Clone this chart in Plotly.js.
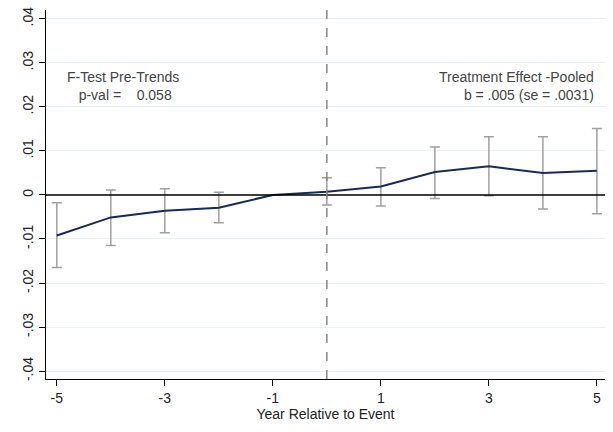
<!DOCTYPE html>
<html>
<head>
<script src="https://cdn.plot.ly/plotly-3.0.1.min.js"></script>
<style>body{margin:0;background:#fff}</style>
</head>
<body>
<div id="plot" style="width:613px;height:432px"></div>
<script>
var years = [-5, -4, -3, -2, -1, 0, 1, 2, 3, 4, 5];
var coef = [-0.0092, -0.0051, -0.0036, -0.0029, 0, 0.00075, 0.0019, 0.0052, 0.0065, 0.0050, 0.0055];
var ciHigh = [-0.0018, 0.0011, 0.0014, 0.0006, null, 0.0039, 0.0062, 0.0109, 0.0132, 0.0132, 0.0151];
var ciLow = [-0.0165, -0.0115, -0.0086, -0.0063, null, -0.0023, -0.0025, -0.0008, -0.0002, -0.0032, -0.0043];
var xTicks = [-5, -3, -1, 1, 3, 5];
var xLabels = ['-5', '-3', '-1', '1', '3', '5'];
var yTicks = [-0.04, -0.03, -0.02, -0.01, 0, 0.01, 0.02, 0.03, 0.04];
var yLabels = ['-.04', '-.03', '-.02', '-.01', '0', '.01', '.02', '.03', '.04'];

var errPlus = coef.map(function (c, i) { return ciHigh[i] === null ? 0 : ciHigh[i] - c; });
var errMinus = coef.map(function (c, i) { return ciLow[i] === null ? 0 : c - ciLow[i]; });
var errVis = coef.map(function (c, i) { return ciHigh[i] !== null; });

var bars = {
    x: years.filter(function (y, i) { return errVis[i]; }),
    y: coef.filter(function (y, i) { return errVis[i]; }),
    mode: 'markers',
    type: 'scatter',
    marker: { size: 1, color: 'rgba(0,0,0,0)' },
    error_y: {
        type: 'data', symmetric: false,
        array: errPlus.filter(function (y, i) { return errVis[i]; }),
        arrayminus: errMinus.filter(function (y, i) { return errVis[i]; }),
        color: '#a0a0a0', thickness: 1.5, width: 5
    },
    hoverinfo: 'skip'
};

var line = {
    x: years,
    y: coef,
    mode: 'lines',
    type: 'scatter',
    line: { color: '#1a2a52', width: 2 }
};

var layout = {
    width: 613,
    height: 432,
    margin: { l: 46, r: 8, t: 10, b: 53 },
    showlegend: false,
    paper_bgcolor: '#fff',
    plot_bgcolor: '#fff',
    font: { family: 'Liberation Sans, Arial, sans-serif', size: 13, color: '#222' },
    xaxis: {
        range: [-5.2, 5.15],
        tickvals: xTicks, ticktext: xLabels,
        tickfont: { size: 14 },
        ticks: 'outside', ticklen: 6, tickcolor: '#000',
        showgrid: false, zeroline: false,
        showline: true, linecolor: '#000', linewidth: 1,
        title: { text: 'Year Relative to Event', standoff: 2, font: { size: 14 } }
    },
    yaxis: {
        range: [-0.0418, 0.042],
        tickvals: yTicks, ticktext: yLabels, tickangle: -90,
        tickfont: { size: 14 },
        ticks: 'outside', ticklen: 6, tickcolor: '#000',
        showgrid: true, gridcolor: '#eaf0f0', gridwidth: 1,
        zeroline: false,
        showline: true, linecolor: '#000', linewidth: 1
    },
    shapes: [
        { type: 'line', xref: 'paper', x0: 0, x1: 1, yref: 'y', y0: 0, y1: 0, line: { color: '#000', width: 1.5 } },
        { type: 'line', xref: 'x', x0: 0, x1: 0, yref: 'paper', y0: 0, y1: 1, line: { color: '#888', width: 1.5, dash: 'dash' } }
    ],
    annotations: [
        { x: -4.85, y: 0.0248, xref: 'x', yref: 'y', xanchor: 'left', showarrow: false, align: 'left',
          font: { size: 14, color: '#444' },
          text: 'F-Test Pre-Trends<br>   p-val =    0.058' },
        { x: 4.98, y: 0.0248, xref: 'x', yref: 'y', xanchor: 'right', showarrow: false, align: 'right',
          font: { size: 14, color: '#444' },
          text: 'Treatment Effect -Pooled<br>b = .005 (se = .0031)' }
    ]
};

Plotly.newPlot('plot', [bars, line], layout, { staticPlot: true });
</script>
</body>
</html>
